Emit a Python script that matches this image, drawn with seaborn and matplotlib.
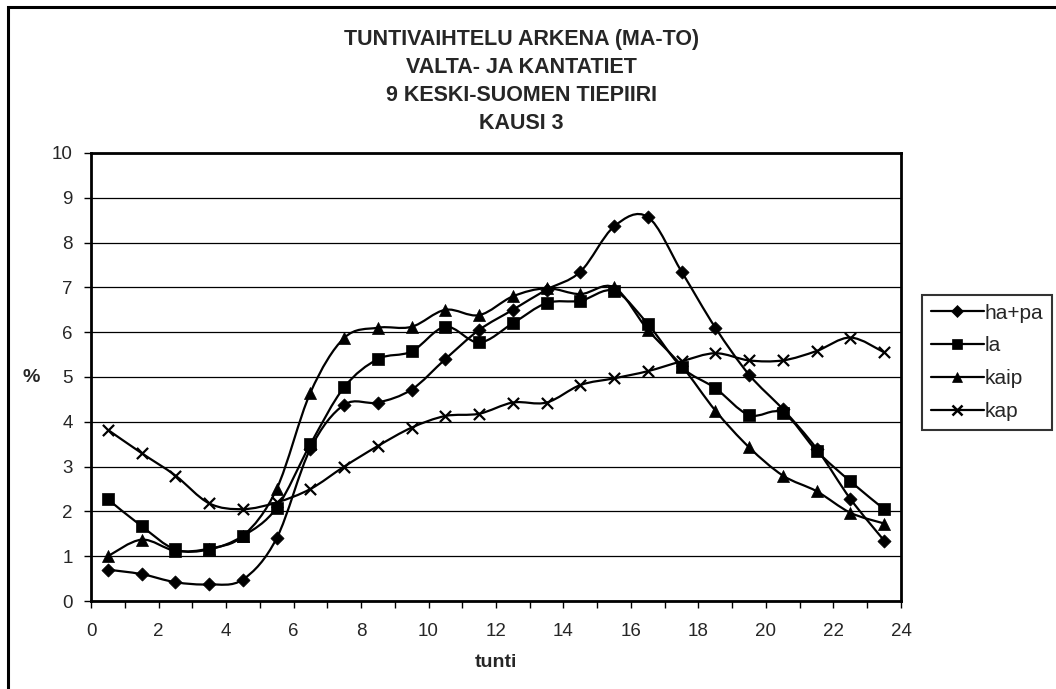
import numpy as np
import pandas as pd
import matplotlib
matplotlib.use('Agg')
import matplotlib.pyplot as plt
import seaborn as sns
from matplotlib.path import Path
from matplotlib.patches import PathPatch, Rectangle
from matplotlib.lines import Line2D

# hourly share of traffic (%), hours 0.5 ... 23.5
hours = np.arange(24) + 0.5
ha_pa = [0.70, 0.60, 0.42, 0.37, 0.48, 1.40, 3.40, 4.38, 4.43, 4.72, 5.40, 6.05,
         6.50, 6.95, 7.35, 8.36, 8.57, 7.35, 6.10, 5.05, 4.28, 3.40, 2.28, 1.35]
la = [2.27, 1.67, 1.15, 1.15, 1.45, 2.08, 3.50, 4.77, 5.40, 5.57, 6.12, 5.77,
      6.20, 6.65, 6.70, 6.92, 6.18, 5.22, 4.75, 4.15, 4.20, 3.35, 2.67, 2.05]
kaip = [1.00, 1.37, 1.12, 1.17, 1.45, 2.50, 4.65, 5.87, 6.10, 6.12, 6.50, 6.38,
        6.80, 6.98, 6.85, 7.00, 6.05, 5.25, 4.25, 3.43, 2.80, 2.45, 1.97, 1.73]
kap = [3.82, 3.30, 2.80, 2.18, 2.05, 2.20, 2.50, 3.00, 3.46, 3.87, 4.13, 4.18,
       4.43, 4.43, 4.82, 4.97, 5.13, 5.35, 5.53, 5.37, 5.37, 5.58, 5.88, 5.55]

series = {'ha+pa': ha_pa, 'la': la, 'kaip': kaip, 'kap': kap}
markers = {'ha+pa': 'D', 'la': 's', 'kaip': '^', 'kap': 'x'}
msizes = {'ha+pa': 45, 'la': 75, 'kaip': 75, 'kap': 65}

sns.set_style('white')
plt.rcParams['font.family'] = ['Liberation Sans', 'DejaVu Sans']

fig = plt.figure(figsize=(10.56, 6.89), dpi=100)
ax = fig.add_axes([0.0862, 0.1277, 0.7670, 0.6503])


def smooth_path(x, y):
    # Excel-like smoothed line: Catmull-Rom segments as cubic Bezier curves
    pts = np.column_stack([x, y])
    ext = np.vstack([pts[0], pts, pts[-1]])
    verts = [pts[0]]
    codes = [Path.MOVETO]
    for i in range(1, len(ext) - 2):
        p0, p1, p2, p3 = ext[i - 1], ext[i], ext[i + 1], ext[i + 2]
        c1 = p1 + (p2 - p0) / 6.0
        c2 = p2 - (p3 - p1) / 6.0
        verts += [c1, c2, p2]
        codes += [Path.CURVE4] * 3
    return Path(verts, codes)


for name, vals in series.items():
    ax.add_patch(PathPatch(smooth_path(hours, vals), facecolor='none',
                           edgecolor='black', lw=1.6, zorder=3))
    df = pd.DataFrame({'tunti': hours, 'pct': vals})
    if markers[name] == 'x':
        sns.scatterplot(data=df, x='tunti', y='pct', marker='x', color='black',
                        s=msizes[name], linewidth=1.6, ax=ax, zorder=4)
    else:
        sns.scatterplot(data=df, x='tunti', y='pct', marker=markers[name], color='black',
                        edgecolor='black', s=msizes[name], linewidth=0.5, ax=ax, zorder=4)

ax.set_xlim(0, 24)
ax.set_ylim(0, 10)
ax.set_xticks(range(0, 25, 2))
ax.set_xticks(range(0, 25), minor=True)
ax.set_yticks(range(0, 11))
ax.tick_params(axis='both', which='both', direction='out', length=5, width=1,
               color='black', labelsize=13.5, bottom=True, left=True)
ax.tick_params(axis='x', which='major', pad=11)
ax.tick_params(axis='y', pad=8)
ax.yaxis.grid(True, color='black', lw=0.9)
ax.set_axisbelow(True)
for sp in ax.spines.values():
    sp.set_color('black')
    sp.set_linewidth(2)

ax.set_xlabel('tunti', fontsize=14, fontweight='bold', labelpad=10)
ax.set_ylabel('')
fig.text(0.030, 0.452, '%', fontsize=14, fontweight='bold', ha='center', va='center')

fig.text(0.494, 0.8817,
         'TUNTIVAIHTELU ARKENA (MA-TO)\nVALTA- JA KANTATIET\n9 KESKI-SUOMEN TIEPIIRI\nKAUSI 3',
         fontsize=15.5, fontweight='bold', linespacing=1.45, ha='center', va='center',
         multialignment='center')

handles = [Line2D([0], [0], color='black', lw=1.6, marker=markers[n],
                  markersize={'ha+pa': 6, 'la': 7.5, 'kaip': 7.5, 'kap': 7}[n],
                  markeredgewidth=1.8 if n == 'kap' else 0.5,
                  markerfacecolor='black', markeredgecolor='black')
           for n in series]
leg = fig.legend(handles, list(series.keys()), loc='upper left',
                 bbox_to_anchor=(0.873, 0.572), fontsize=15, frameon=True,
                 fancybox=False, edgecolor='black', handlelength=2.55,
                 handletextpad=0.05, borderpad=0.42, labelspacing=0.66,
                 borderaxespad=0)
leg.get_frame().set_linewidth(1.5)

# outer chart frame (only left and top edges fall inside the image)
fig.add_artist(Rectangle((0.0076, -0.05), 1.1, 1.04, transform=fig.transFigure,
                         fill=False, edgecolor='black', lw=2.2))

fig.savefig('out.png', dpi=100)
